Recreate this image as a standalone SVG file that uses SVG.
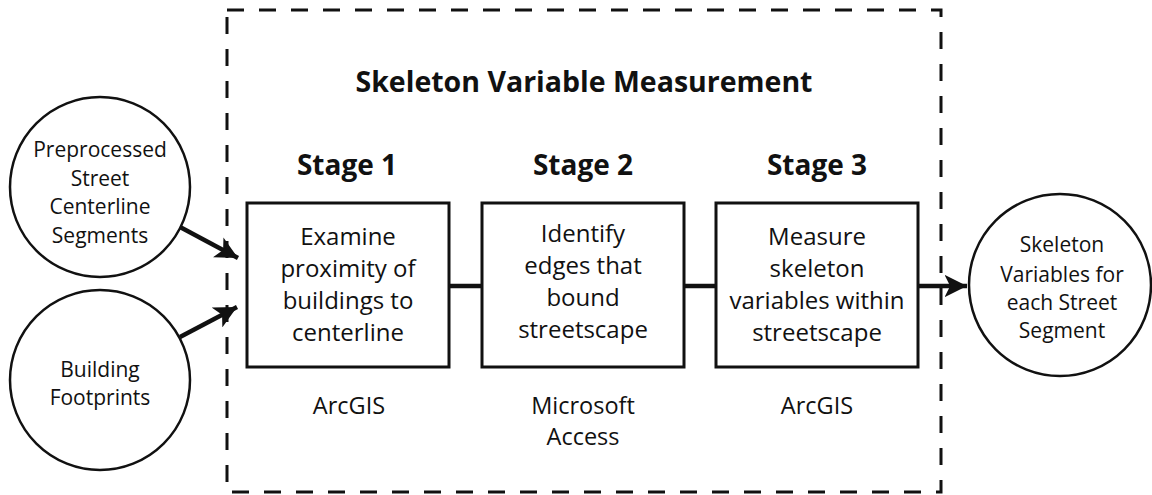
<svg xmlns="http://www.w3.org/2000/svg" width="1152" height="495" viewBox="0 0 1152 495">
<style>
.t{font-family:"Open Sans","Noto Sans","Liberation Sans",sans-serif;font-size:21px;fill:#111;text-anchor:middle}
.m{font-size:24px}
.s{font-size:23.5px}
.b{font-family:"Open Sans","Noto Sans","Liberation Sans",sans-serif;font-weight:bold;fill:#111;text-anchor:middle}
.box{fill:#fff;stroke:#111;stroke-width:3}
.circ{fill:#fff;stroke:#111;stroke-width:2.5}
.ln{stroke:#111;stroke-width:4.5;fill:none}
</style>
<defs>
<marker id="ah" viewBox="0 0 10 10" refX="10" refY="5" markerWidth="5" markerHeight="5" markerUnits="strokeWidth" orient="auto">
<path d="M0,0 L10,5 L0,10 L2.5,5 Z" fill="#111"/>
</marker>
</defs>
<rect id="frame" x="227" y="10" width="714" height="482" fill="none" stroke="#111" stroke-width="3" stroke-dasharray="17 15"/>
<text class="b" x="584" y="92" font-size="28.5">Skeleton Variable Measurement</text>
<g id="connectors">
<line class="ln" x1="180" y1="227" x2="238" y2="258" marker-end="url(#ah)"/>
<line class="ln" x1="180" y1="337" x2="237" y2="307" marker-end="url(#ah)"/>
<line class="ln" x1="449" y1="286" x2="482" y2="286"/>
<line class="ln" x1="684" y1="286" x2="716" y2="286"/>
<line class="ln" x1="918" y1="286" x2="967" y2="286" marker-end="url(#ah)"/>
</g>
<g id="in1">
<circle class="circ" cx="100" cy="187" r="90"/>
<text class="t"><tspan x="100" y="157">Preprocessed</tspan><tspan x="100" y="186">Street</tspan><tspan x="100" y="214">Centerline</tspan><tspan x="100" y="243">Segments</tspan></text>
</g>
<g id="in2">
<circle class="circ" cx="100" cy="380" r="90"/>
<text class="t"><tspan x="100" y="377">Building</tspan><tspan x="100" y="405">Footprints</tspan></text>
</g>
<g id="stage1">
<text class="b" x="347" y="175" font-size="28">Stage 1</text>
<rect class="box" x="247" y="203" width="202" height="164"/>
<text class="t m"><tspan x="348" y="245">Examine</tspan><tspan x="348" y="277">proximity of</tspan><tspan x="348" y="309">buildings to</tspan><tspan x="348" y="341">centerline</tspan></text>
<text class="t s" x="349" y="414">ArcGIS</text>
</g>
<g id="stage2">
<text class="b" x="583" y="175" font-size="28">Stage 2</text>
<rect class="box" x="482" y="203" width="202" height="164"/>
<text class="t m"><tspan x="583" y="242">Identify</tspan><tspan x="583" y="274">edges that</tspan><tspan x="583" y="306">bound</tspan><tspan x="583" y="338">streetscape</tspan></text>
<text class="t s"><tspan x="583" y="414">Microsoft</tspan><tspan x="583" y="445">Access</tspan></text>
</g>
<g id="stage3">
<text class="b" x="817" y="175" font-size="28">Stage 3</text>
<rect class="box" x="716" y="203" width="202" height="164"/>
<text class="t m"><tspan x="817" y="245">Measure</tspan><tspan x="817" y="277">skeleton</tspan><tspan x="817" y="309">variables within</tspan><tspan x="817" y="341">streetscape</tspan></text>
<text class="t s" x="817" y="414">ArcGIS</text>
</g>
<g id="out">
<circle class="circ" cx="1060" cy="285" r="91"/>
<text class="t"><tspan x="1062" y="252">Skeleton</tspan><tspan x="1062" y="282">Variables for</tspan><tspan x="1062" y="310">each Street</tspan><tspan x="1062" y="338">Segment</tspan></text>
</g>
</svg>
